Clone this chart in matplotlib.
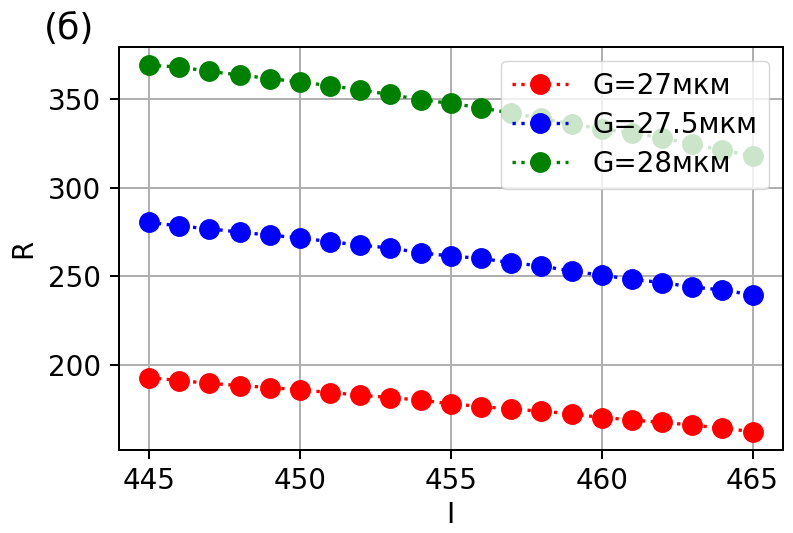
import matplotlib
matplotlib.use("Agg")
import matplotlib.pyplot as plt

I = list(range(445, 466))
R_27 = [192.9, 191.2, 189.7, 188.4, 187.3, 186.0, 184.5, 183.0, 181.6, 180.2,
        178.1, 176.6, 175.1, 174.0, 172.5, 170.4, 169.1, 167.6, 166.2, 164.3, 162.5]
R_275 = [280.5, 278.3, 276.8, 274.9, 273.2, 271.7, 269.5, 267.6, 265.9, 263.3,
         261.4, 260.1, 257.7, 255.8, 253.0, 250.6, 248.3, 246.5, 244.0, 242.3, 239.5]
R_28 = [369.0, 368.0, 365.5, 363.5, 361.5, 359.5, 357.5, 355.0, 352.5, 349.5,
        347.5, 345.0, 342.0, 339.0, 336.0, 333.0, 331.0, 328.0, 324.5, 321.0, 318.0]
labels = ["G=27мкм", "G=27.5мкм", "G=28мкм"]
colors = ["red", "blue", "green"]

s = 1.8
plt.rcParams.update({
    "font.family": ["DejaVu Sans"],
    "font.size": 20,
    "axes.linewidth": 0.8 * s,
    "xtick.major.size": 3.5 * s,
    "ytick.major.size": 3.5 * s,
    "xtick.major.width": 0.8 * s,
    "ytick.major.width": 0.8 * s,
    "xtick.major.pad": 3.5 * s,
    "ytick.major.pad": 3.5 * s,
    "grid.linewidth": 0.8 * s,
})

fig = plt.figure(figsize=(7.93, 5.33), dpi=100)
ax = fig.add_axes([0.150, 0.156, 0.837, 0.756])

for y, lab, c in zip([R_27, R_275, R_28], labels, colors):
    ax.plot(I, y, linestyle=":", marker="o", color=c, markersize=14,
            linewidth=2.4, label=lab)

ax.grid(True)
ax.set_xticks([445, 450, 455, 460, 465])
ax.set_yticks([200, 250, 300, 350])
ax.set_xlabel("I", labelpad=4)
ax.set_ylabel("R", labelpad=8)
ax.legend(loc="upper right", fontsize=20, borderaxespad=0.5,
          labelspacing=0.4, handletextpad=0.9)
fig.text(0.055, 0.946, "(б)", fontsize=26, va="center", ha="left")

fig.savefig("out.png", dpi=100)
